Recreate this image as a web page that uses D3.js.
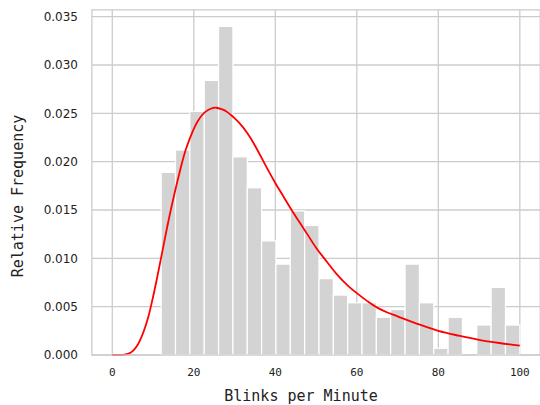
<!DOCTYPE html>
<html>
<head>
<meta charset="utf-8">
<script src="https://cdn.jsdelivr.net/npm/d3@7"></script>
<style>
  body { margin: 0; background: #fff; }
  svg { display: block; }
</style>
</head>
<body>
<div id="chart"></div>
<script>
// Histogram bin edges (Blinks per Minute)
const binEdges = [12, 15.52, 19.04, 22.56, 26.08, 29.6, 33.12, 36.64, 40.16, 43.68, 47.2,
    50.72, 54.24, 57.76, 61.28, 64.8, 68.32, 71.84, 75.36, 78.88, 82.4, 85.92, 89.44,
    92.96, 96.48, 100];
// Relative frequency (density) of each bin
const binHeights = [0.0189, 0.0212, 0.0252, 0.0284, 0.0340, 0.0205, 0.0173, 0.0118,
    0.0094, 0.0149, 0.0134, 0.0079, 0.0062, 0.0054, 0.0054, 0.0039, 0.0047, 0.0094,
    0.0054, 0.0007, 0.0039, 0.0, 0.0031, 0.0070, 0.0031];
// Fitted density curve
const curveX = [0, 2, 3, 4, 5, 6, 7, 8, 9, 10, 11, 12, 14, 16, 18, 20, 21, 22, 23, 24,
    25.5, 27, 28, 30, 32, 34, 36, 38, 40, 42, 44, 46, 48, 50, 52, 55, 58, 60, 62.5, 65,
    67.5, 70, 75, 80, 85, 90, 95, 100];
const curveY = [0, 0.00001, 0.00004, 0.00015, 0.0004, 0.0009, 0.0017, 0.0028, 0.0042,
    0.0060, 0.0080, 0.0101, 0.0143, 0.0180, 0.0212, 0.0234, 0.0242, 0.0248, 0.0252,
    0.02545, 0.02558, 0.0254, 0.0252, 0.0245, 0.0236, 0.0224, 0.0209, 0.0193, 0.0178,
    0.0164, 0.0150, 0.0137, 0.0124, 0.0111, 0.0100, 0.0084, 0.0071, 0.0064, 0.0056,
    0.0049, 0.0044, 0.0040, 0.0032, 0.0025, 0.0020, 0.00157, 0.00124, 0.00096];
const xTicks = [0, 20, 40, 60, 80, 100];
const yTicks = [0, 0.005, 0.010, 0.015, 0.020, 0.025, 0.030, 0.035];

const width = 540;
const height = 405;
const gridColor = "#cccccc";

const svg = d3.select("#chart").append("svg")
    .attr("width", width)
    .attr("height", height);

const x = d3.scaleLinear().domain([-5, 105]).range([91.9, 540.2]);
const y = d3.scaleLinear().domain([0, 0.0357]).range([355, 9.9]);

// grid lines (below bars)
const grid = svg.append("g");
grid.selectAll(".vgrid")
    .data(xTicks)
    .enter()
    .append("line")
    .attr("x1", d => x(d)).attr("x2", d => x(d))
    .attr("y1", y(0)).attr("y2", y(0.0357))
    .attr("stroke", gridColor)
    .attr("stroke-width", 1.3);
grid.selectAll(".hgrid")
    .data(yTicks)
    .enter()
    .append("line")
    .attr("x1", x(-5)).attr("x2", x(105))
    .attr("y1", d => y(d)).attr("y2", d => y(d))
    .attr("stroke", gridColor)
    .attr("stroke-width", 1.3);

// histogram bars
svg.append("g")
    .selectAll("rect")
    .data(binHeights)
    .enter()
    .append("rect")
    .attr("x", (d, i) => x(binEdges[i]))
    .attr("width", (d, i) => x(binEdges[i + 1]) - x(binEdges[i]))
    .attr("y", d => y(d))
    .attr("height", d => y(0) - y(d))
    .attr("fill", "#d3d3d3")
    .attr("stroke", "#ffffff")
    .attr("stroke-width", 1.2);

// red density curve
const pts = curveX.map((d, i) => [d, curveY[i]]);
svg.append("path")
    .datum(pts)
    .attr("d", d3.line()
        .x(d => x(d[0]))
        .y(d => y(d[1]))
        .curve(d3.curveCatmullRom.alpha(0.5)))
    .attr("fill", "none")
    .attr("stroke", "#ff0000")
    .attr("stroke-width", 1.8);

// frame
svg.append("rect")
    .attr("x", x(-5))
    .attr("y", y(0.0357))
    .attr("width", x(105) - x(-5))
    .attr("height", y(0) - y(0.0357))
    .attr("fill", "none")
    .attr("stroke", gridColor)
    .attr("stroke-width", 1.3);

// x axis tick labels
svg.append("g")
    .selectAll("text")
    .data(xTicks)
    .enter()
    .append("text")
    .attr("x", d => x(d))
    .attr("y", 376)
    .attr("text-anchor", "middle")
    .attr("font-family", "DejaVu Sans Mono")
    .attr("font-size", 11)
    .attr("fill", "#222")
    .text(d => d);

// y axis tick labels
svg.append("g")
    .selectAll("text")
    .data(yTicks)
    .enter()
    .append("text")
    .attr("x", 78)
    .attr("y", d => y(d))
    .attr("dy", "0.35em")
    .attr("text-anchor", "end")
    .attr("font-family", "DejaVu Sans")
    .attr("font-size", 12)
    .attr("fill", "#222")
    .text(d => d3.format(".3f")(d));

// axis titles
svg.append("text")
    .attr("x", 301)
    .attr("y", 401)
    .attr("text-anchor", "middle")
    .attr("font-family", "DejaVu Sans Mono")
    .attr("font-size", 15)
    .attr("fill", "#222")
    .text("Blinks per Minute");

svg.append("text")
    .attr("transform", "translate(23,196) rotate(-90)")
    .attr("text-anchor", "middle")
    .attr("font-family", "DejaVu Sans Mono")
    .attr("font-size", 15)
    .attr("fill", "#222")
    .text("Relative Frequency");
</script>
</body>
</html>
